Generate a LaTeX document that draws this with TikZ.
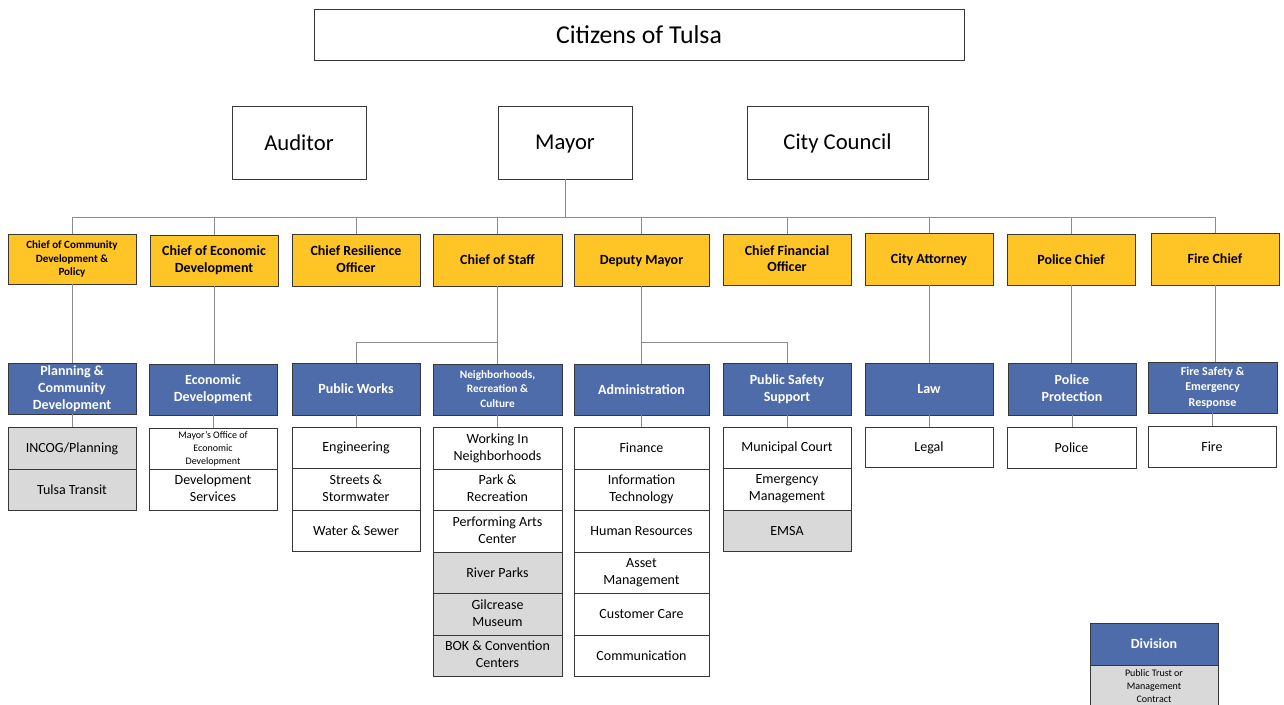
\documentclass[tikz,border=0pt]{standalone}
\usepackage{fontspec}
\setmainfont{Carlito}
\definecolor{chiefgold}{RGB}{255,196,37}
\definecolor{divblue}{RGB}{79,108,170}
\definecolor{trustgray}{RGB}{217,217,217}
\definecolor{edgegray}{RGB}{55,55,55}
\definecolor{linegray}{RGB}{140,140,140}
% box from corner (x1,y1) to (x2,y2), in pixel units
\newcommand\orgbox[7]{%
  \pgfmathsetmacro\orgboxw{(#5-#3)*0.75}%
  \pgfmathsetmacro\orgboxh{(#6-#4)*0.75}%
  \node[#2, minimum width=\orgboxw pt, minimum height=\orgboxh pt] (#1) at ({(#3+#5)/2},{(#4+#6)/2}) {#7};%
}
\tikzset{
  base/.style={draw=edgegray, line width=0.65pt, inner sep=0pt, outer sep=0pt, align=center,
    execute at begin node={\rule{0pt}{0.8em}},
    execute at end node={\rule[-0.13em]{0pt}{0.13em}}},
  topbox/.style={base, fill=white, font=\fontsize{17}{20}\selectfont},
  chief/.style={base, fill=chiefgold, font=\bfseries\fontsize{10.5}{12.7}\selectfont},
  chiefsm/.style={base, fill=chiefgold, font=\bfseries\fontsize{8.3}{10}\selectfont},
  division/.style={base, fill=divblue, text=white, font=\bfseries\fontsize{10.5}{12.7}\selectfont},
  divisionsm/.style={base, fill=divblue, text=white, font=\bfseries\fontsize{8.5}{11}\selectfont},
  unit/.style={base, fill=white, font=\fontsize{10.5}{12.7}\selectfont},
  unitsm/.style={base, fill=white, font=\fontsize{7.5}{9.7}\selectfont},
  trust/.style={base, fill=trustgray, font=\fontsize{10.5}{12.7}\selectfont},
  trustsm/.style={base, fill=trustgray, font=\fontsize{7.5}{9.7}\selectfont},
  conn/.style={draw=linegray, line width=0.6pt},
}
\begin{document}
\begin{tikzpicture}[x=0.75pt,y=-0.75pt]
\useasboundingbox (0,0) rectangle (1284,705);

% top level
\orgbox{citizens}{topbox, font=\fontsize{19.3}{22}\selectfont}{314}{9}{964}{60}{Citizens of Tulsa}
\orgbox{auditor}{topbox}{232}{106}{366}{179}{Auditor}
\orgbox{mayor}{topbox}{498}{106}{632}{179}{Mayor}
\orgbox{council}{topbox}{747}{106}{928}{179}{City Council}

% chiefs
\orgbox{c1}{chiefsm}{8}{234}{136}{284}{Chief of Community\\Development \&\\Policy}
\orgbox{c2}{chief}{150}{235}{278}{286}{Chief of Economic\\Development}
\orgbox{c3}{chief}{292}{234}{420}{286}{Chief Resilience\\Officer}
\orgbox{c4}{chief}{433}{234}{562}{286}{Chief of Staff}
\orgbox{c5}{chief}{574}{234}{709}{286}{Deputy Mayor}
\orgbox{c6}{chief}{723}{234}{851}{285}{Chief Financial\\Officer}
\orgbox{c7}{chief}{865}{233}{993}{285}{City Attorney}
\orgbox{c8}{chief}{1007}{234}{1135}{285}{Police Chief}
\orgbox{c9}{chief}{1151}{233}{1279}{285}{Fire Chief}

% divisions
\orgbox{d1}{division}{8}{363}{136}{414}{Planning \&\\Community\\Development}
\orgbox{d2}{division}{149}{364}{277}{415}{Economic\\Development}
\orgbox{d3}{division}{292}{363}{420}{415}{Public Works}
\orgbox{d4}{divisionsm}{433}{364}{562}{415}{Neighborhoods,\\Recreation \&\\Culture}
\orgbox{d5}{division}{574}{364}{709}{415}{Administration}
\orgbox{d6}{division}{723}{363}{851}{415}{Public Safety\\Support}
\orgbox{d7}{division}{865}{363}{993}{415}{Law}
\orgbox{d8}{division}{1008}{363}{1136}{415}{Police\\Protection}
\orgbox{d9}{divisionsm, font=\bfseries\fontsize{9}{11.5}\selectfont}{1148}{362}{1277}{413}{Fire Safety \&\\Emergency\\Response}

% units
\orgbox{s11}{trust}{8}{427}{136}{469}{INCOG/Planning}
\orgbox{s12}{trust}{8}{469}{136}{510}{Tulsa Transit}

\orgbox{s21}{unitsm}{149}{428}{277}{469}{Mayor’s Office of\\Economic\\Development}
\orgbox{s22}{unit}{149}{469}{277}{510}{Development\\Services}

\orgbox{s31}{unit}{292}{427}{420}{468}{Engineering}
\orgbox{s32}{unit}{292}{468}{420}{510}{Streets \&\\Stormwater}
\orgbox{s33}{unit}{292}{510}{420}{551}{Water \& Sewer}

\orgbox{s41}{unit}{433}{427}{562}{469}{Working In\\Neighborhoods}
\orgbox{s42}{unit}{433}{469}{562}{510}{Park \&\\Recreation}
\orgbox{s43}{unit}{433}{510}{562}{552}{Performing Arts\\Center}
\orgbox{s44}{trust}{433}{552}{562}{593}{River Parks}
\orgbox{s45}{trust}{433}{593}{562}{635}{Gilcrease\\Museum}
\orgbox{s46}{trust}{433}{635}{562}{676}{BOK \& Convention\\Centers}

\orgbox{s51}{unit}{574}{427}{709}{469}{Finance}
\orgbox{s52}{unit}{574}{469}{709}{510}{Information\\Technology}
\orgbox{s53}{unit}{574}{510}{709}{552}{Human Resources}
\orgbox{s54}{unit}{574}{552}{709}{593}{Asset\\Management}
\orgbox{s55}{unit}{574}{593}{709}{635}{Customer Care}
\orgbox{s56}{unit}{574}{635}{709}{676}{Communication}

\orgbox{s61}{unit}{723}{427}{851}{468}{Municipal Court}
\orgbox{s62}{unit}{723}{468}{851}{510}{Emergency\\Management}
\orgbox{s63}{trust}{723}{510}{851}{551}{EMSA}

\orgbox{s71}{unit}{865}{427}{993}{467}{Legal}
\orgbox{s81}{unit}{1007}{427}{1136}{468}{Police}
\orgbox{s91}{unit}{1148}{426}{1276}{467}{Fire}

% legend
\orgbox{legdiv}{division}{1090}{623}{1218}{665}{Division}
\orgbox{legtrust}{trustsm}{1090}{665}{1218}{708}{Public Trust or\\Management\\Contract}

% connectors: mayor to chiefs
\coordinate (bus) at (0,217);
\draw[conn] (mayor.south) -- (mayor.south |- bus);
\draw[conn] (c1.north |- bus) -- (c9.north |- bus);
\foreach \c in {c1,c2,c3,c4,c5,c6,c7,c8,c9}
  \draw[conn] (\c.north) -- (\c.north |- bus);

% connectors: chiefs to divisions
\coordinate (split) at (0,342);
\draw[conn] (c1.south) -- (c1.south |- d1.north);
\draw[conn] (c2.south) -- (c2.south |- d2.north);
\draw[conn] (c4.south) -- (c4.south |- split) -| (d3.north);
\draw[conn] (c4.south |- split) -- (d4.north);
\draw[conn] (c5.south) -- (c5.south |- split) -| (d6.north);
\draw[conn] (c5.south |- split) -- (d5.north);
\draw[conn] (c7.south) -- (c7.south |- d7.north);
\draw[conn] (c8.south) -- (c8.south |- d8.north);
\draw[conn] (c9.south) -- (c9.south |- d9.north);

% connectors: divisions to units
\foreach \d/\s in {d1/s11,d2/s21,d3/s31,d4/s41,d5/s51,d6/s61,d7/s71,d8/s81,d9/s91}
  \draw[conn] (\d.south) -- (\d.south |- \s.north);
\end{tikzpicture}
\end{document}
